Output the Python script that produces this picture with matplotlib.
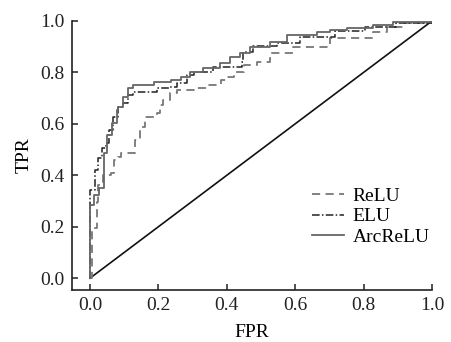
import matplotlib
matplotlib.use('Agg')
import matplotlib.pyplot as plt
from matplotlib.ticker import FormatStrFormatter

plt.rcParams['font.family'] = 'serif'
plt.rcParams['font.serif'] = ['Liberation Serif', 'DejaVu Serif']
plt.rcParams['font.size'] = 14

# ROC staircase corners (x of rise, level reached)
relu_fpr = [0.0, 0.006, 0.020, 0.023, 0.038, 0.061, 0.070, 0.082, 0.091, 0.132, 0.146,
            0.161, 0.196, 0.205, 0.214, 0.234, 0.255, 0.304, 0.342, 0.383, 0.401, 0.421,
            0.451, 0.489, 0.527, 0.594, 0.702, 0.828, 0.869, 0.916, 1.0]
relu_tpr = [0.0, 0.195, 0.296, 0.362, 0.400, 0.409, 0.459, 0.471, 0.486, 0.537, 0.588,
            0.626, 0.642, 0.673, 0.693, 0.720, 0.732, 0.739, 0.751, 0.770, 0.782, 0.802,
            0.829, 0.840, 0.875, 0.899, 0.934, 0.957, 0.977, 0.992, 1.0]

elu_fpr = [0.0, 0.0, 0.015, 0.023, 0.035, 0.047, 0.056, 0.067, 0.082, 0.097, 0.111,
           0.126, 0.196, 0.234, 0.255, 0.284, 0.304, 0.360, 0.445, 0.448, 0.477, 0.547,
           0.615, 0.717, 0.805, 0.893, 1.0]
elu_tpr = [0.0, 0.342, 0.420, 0.467, 0.506, 0.525, 0.576, 0.626, 0.665, 0.681, 0.712,
           0.724, 0.739, 0.743, 0.759, 0.790, 0.802, 0.821, 0.840, 0.879, 0.903, 0.914,
           0.938, 0.961, 0.977, 0.992, 1.0]

arc_fpr = [0.0, 0.0, 0.012, 0.026, 0.041, 0.050, 0.064, 0.079, 0.082, 0.097, 0.111,
           0.126, 0.187, 0.237, 0.266, 0.293, 0.331, 0.380, 0.410, 0.439, 0.468, 0.527,
           0.577, 0.664, 0.702, 0.752, 0.828, 0.887, 1.0]
arc_tpr = [0.0, 0.284, 0.323, 0.350, 0.486, 0.556, 0.603, 0.654, 0.665, 0.704, 0.739,
           0.751, 0.763, 0.770, 0.782, 0.802, 0.817, 0.837, 0.860, 0.875, 0.899, 0.918,
           0.946, 0.957, 0.965, 0.973, 0.984, 0.996, 1.0]

fig = plt.figure(figsize=(4.52, 3.42), dpi=100)
ax = fig.add_axes([0.159, 0.152, 0.797, 0.787])

ax.plot([0, 1], [0, 1], color='#111111', lw=1.2)
ax.plot(relu_fpr, relu_tpr, drawstyle='steps-post', color='#777777', lw=1.3,
        linestyle=(0, (4.5, 3)), label='ReLU')
ax.plot(elu_fpr, elu_tpr, drawstyle='steps-post', color='#222222', lw=1.1,
        linestyle=(0, (5, 1.5, 1, 1.5)), label='ELU')
ax.plot(arc_fpr, arc_tpr, drawstyle='steps-post', color='#666666', lw=1.3,
        label='ArcReLU')

ax.set_xlim(-0.053, 1.0)
ax.set_ylim(-0.046, 1.0)
ax.set_xticks([0, 0.2, 0.4, 0.6, 0.8, 1.0])
ax.set_yticks([0, 0.2, 0.4, 0.6, 0.8, 1.0])
ax.xaxis.set_major_formatter(FormatStrFormatter('%.1f'))
ax.yaxis.set_major_formatter(FormatStrFormatter('%.1f'))
ax.tick_params(direction='in', length=4, width=1.1, colors='#222222', pad=5)
for s in ['top', 'right']:
    ax.spines[s].set_visible(False)
for s in ['left', 'bottom']:
    ax.spines[s].set_linewidth(1.2)
    ax.spines[s].set_color('#222222')

ax.set_xlabel('FPR', labelpad=7)
ax.set_ylabel('TPR', labelpad=6)

ax.legend(loc='lower right', bbox_to_anchor=(1.015, 0.135), frameon=False,
          handlelength=1.65, handletextpad=0.45, labelspacing=0.15, borderaxespad=0)

fig.savefig('out.png', dpi=100)
